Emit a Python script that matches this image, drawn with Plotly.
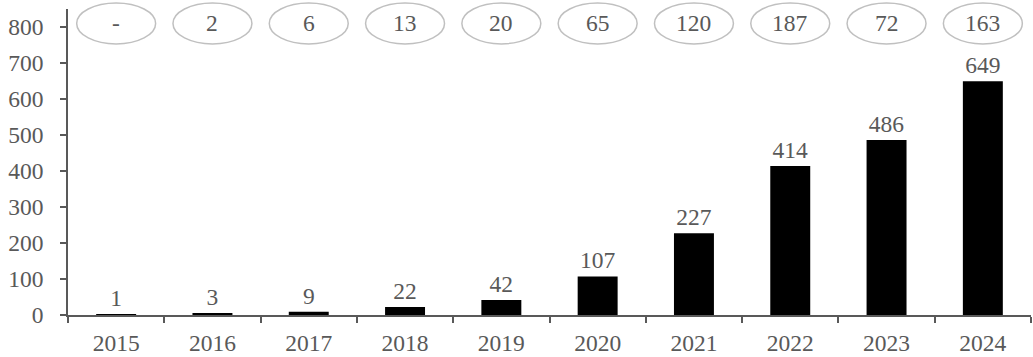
import plotly.graph_objects as go

years = ["2015", "2016", "2017", "2018", "2019", "2020", "2021", "2022", "2023", "2024"]
values = [1, 3, 9, 22, 42, 107, 227, 414, 486, 649]
top_labels = ["-", "2", "6", "13", "20", "65", "120", "187", "72", "163"]
y_ticks = [0, 100, 200, 300, 400, 500, 600, 700, 800]

GRAY = "#595959"
FONT = "Liberation Serif, Times New Roman, serif"
FS = 23.5

fig = go.Figure()
fig.add_trace(go.Bar(
    x=years, y=values, width=0.415,
    marker=dict(color="#000000", line=dict(width=0)),
    text=[str(v) for v in values], textposition="outside",
    textfont=dict(family=FONT, size=FS, color=GRAY),
    cliponaxis=False,
))

shapes = []
annotations = []
for i, lab in enumerate(top_labels):
    shapes.append(dict(type="circle", xref="x", yref="paper",
                       x0=i - 0.41, x1=i + 0.41, y0=0.886, y1=1.0196,
                       line=dict(color="#c0c0c0", width=1.5)))
    annotations.append(dict(x=i, y=0.953, xref="x", yref="paper",
                            xanchor="center", yanchor="middle",
                            text=lab, showarrow=False,
                            font=dict(family=FONT, size=FS, color=GRAY)))

fig.update_layout(
    width=1033, height=357,
    margin=dict(l=68, r=2, t=9, b=42),
    paper_bgcolor="white", plot_bgcolor="white",
    showlegend=False,
    shapes=shapes, annotations=annotations,
    font=dict(family=FONT, size=FS, color=GRAY),
    uniformtext=dict(mode=False),
    xaxis=dict(type="category", range=[-0.5, 9.5], showline=True, linecolor=GRAY,
               linewidth=1.5, ticks="outside", tickson="boundaries", ticklen=6,
               tickcolor=GRAY, tickwidth=1.5, showgrid=False, tickangle=0,
               ticklabelstandoff=6,
               tickfont=dict(family=FONT, size=FS, color=GRAY)),
    yaxis=dict(range=[0, 850], tickvals=y_ticks, showline=True, linecolor=GRAY,
               linewidth=1.5, ticks="outside", ticklen=6, tickcolor=GRAY,
               tickwidth=1.5, showgrid=False, zeroline=False,
               ticklabelstandoff=12,
               tickfont=dict(family=FONT, size=FS, color=GRAY)),
)

fig.write_html("out.html")
